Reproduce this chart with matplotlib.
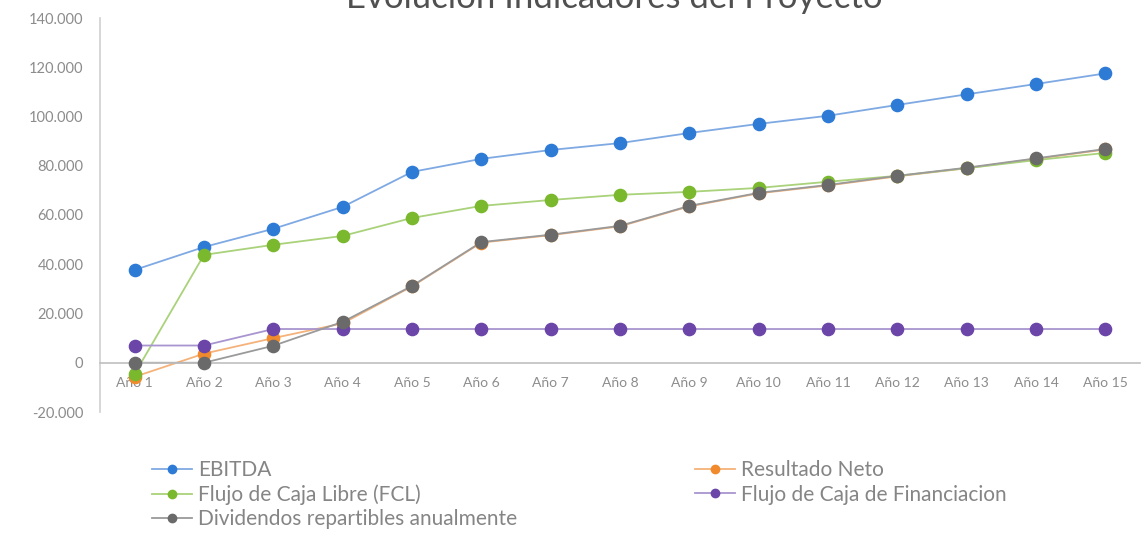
import matplotlib
matplotlib.use("Agg")
import matplotlib.pyplot as plt
from matplotlib.ticker import FuncFormatter
from matplotlib.lines import Line2D

categories = [f"Año {i}" for i in range(1, 16)]
ebitda = [37700, 47000, 54400, 63300, 77500, 82800, 86400, 89200, 93300, 97000,
          100300, 104700, 109000, 113200, 117500]
resultado_neto = [-5700, 3700, 10000, 16000, 31000, 48800, 51800, 55400, 63500, 68800,
                  72000, 75700, 79000, 82800, 86600]
fcl = [-4500, 43800, 47900, 51500, 58800, 63700, 66100, 68200, 69400, 71000,
       73500, 75900, 79000, 82300, 85200]
financiacion = [7000, 7000, 13700, 13700, 13700, 13700, 13700, 13700, 13700, 13700,
                13700, 13700, 13700, 13700, 13700]
dividendos = [0, 0, 6900, 16600, 31200, 49000, 52000, 55600, 63700, 69000,
              72200, 75900, 79200, 83000, 86800]
yticks = [-20000, 0, 20000, 40000, 60000, 80000, 100000, 120000, 140000]

plt.rcParams['font.family'] = ['Lato', 'DejaVu Sans']

fig = plt.figure(figsize=(11.48, 5.40), dpi=100)
ax = fig.add_axes([100/1148, 1-412/540, (1140-100)/1148, (412-18)/540])

x = list(range(1, 16))
series = [
    ("EBITDA", ebitda, '#2E7BD6', '#7FA9E3'),
    ("Resultado Neto", resultado_neto, '#F08A2C', '#F5B27A'),
    ("Flujo de Caja Libre (FCL)", fcl, '#7AB82E', '#A9D27A'),
    ("Flujo de Caja de Financiacion", financiacion, '#6B45A8', '#A895CF'),
    ("Dividendos repartibles anualmente", dividendos, '#6A6A6A', '#9A9A9A'),
]
handles = {}
for name, vals, mc, lc in series:
    ax.plot(x, vals, color=lc, lw=1.3, zorder=2)
    ax.plot(x, vals, ls='none', marker='o', ms=8.8, color=mc, zorder=3)
    handles[name] = Line2D([], [], color=lc, lw=1.3, marker='o', ms=6,
                           markerfacecolor=mc, markeredgecolor=mc)

ax.set_xlim(0.5, 15.5)
ax.set_ylim(-20000, 140000)
ax.set_yticks(yticks)
ax.yaxis.set_major_formatter(FuncFormatter(lambda v, p: f"{int(v):,}".replace(",", ".")))
ax.set_xticks(x)
ax.set_xticklabels(categories)
for s in ['top', 'right']:
    ax.spines[s].set_visible(False)
ax.spines['bottom'].set_position(('data', 0))
ax.spines['bottom'].set_color('#BFBFBF')
ax.spines['left'].set_color('#D0D0D0')
ax.spines['bottom'].set_linewidth(1.2)
ax.spines['left'].set_linewidth(1.2)
ax.tick_params(axis='both', length=0, colors='#8C8C8C')
ax.tick_params(axis='y', pad=12, labelsize=10.5)
ax.tick_params(axis='x', pad=10, labelsize=10)

fig.text(0.535, 1 - 8/540, "Evolución Indicadores del Proyecto", ha='center', va='baseline',
         fontsize=25, color='#505050')

common = dict(loc='upper left', frameon=False, fontsize=15, labelcolor='#858585',
              handlelength=1.9, handletextpad=0.3, labelspacing=0.2, borderpad=0)
names1 = ["EBITDA", "Flujo de Caja Libre (FCL)", "Dividendos repartibles anualmente"]
names2 = ["Resultado Neto", "Flujo de Caja de Financiacion"]
fig.legend([handles[n] for n in names1], names1, bbox_to_anchor=(142/1148, 1-450/540), **common)
fig.legend([handles[n] for n in names2], names2, bbox_to_anchor=(685/1148, 1-450/540), **common)

fig.savefig("out.png", dpi=100)
